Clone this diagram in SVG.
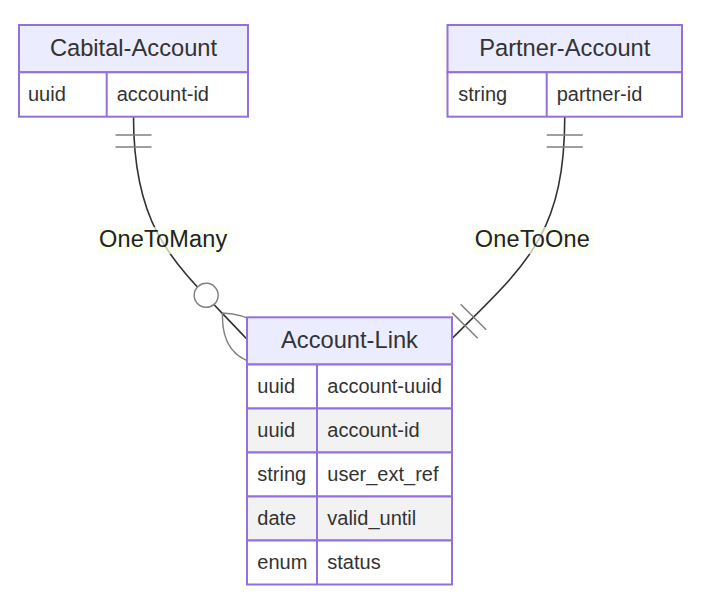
<svg xmlns="http://www.w3.org/2000/svg" width="711" height="604" viewBox="0 0 711 604">
<style>
  text { font-family: "Liberation Sans", Arial, Helvetica, sans-serif; fill: #333; }
  .hdr { fill: #ECECFF; stroke: #9370DB; stroke-width: 2; }
  .odd { fill: #ffffff; stroke: #9370DB; stroke-width: 2; }
  .even { fill: #f2f2f2; stroke: #9370DB; stroke-width: 2; }
  .div { stroke: #9370DB; stroke-width: 2; }
  .title { font-size: 23.7px; text-anchor: middle; }
  .attr { font-size: 20px; }
  .rel { fill: none; stroke: #333; stroke-width: 1.6; }
  .lblbox { fill: #f9ffec; opacity: 0.7; }
  .lbl { font-size: 23.5px; text-anchor: middle; fill: #222; letter-spacing: 0.2px; }
  .mk { fill: none; stroke: #808080; stroke-width: 0.75; }
</style>
<defs>
  <marker id="oneStart" viewBox="0 0 18 18" refX="0" refY="9" markerWidth="36" markerHeight="36" markerUnits="userSpaceOnUse" orient="auto" overflow="visible">
    <path class="mk" d="M9,0 L9,18 M15,0 L15,18"/>
  </marker>
  <marker id="oneEnd" viewBox="0 0 18 18" refX="18" refY="9" markerWidth="36" markerHeight="36" markerUnits="userSpaceOnUse" orient="auto" overflow="visible">
    <path class="mk" d="M3,0 L3,18 M9,0 L9,18"/>
  </marker>
  <marker id="zeroManyEnd" viewBox="0 0 57 36" refX="39" refY="18" markerWidth="114" markerHeight="72" markerUnits="userSpaceOnUse" orient="auto" overflow="visible">
    <circle cx="9" cy="18" r="6" fill="#ffffff" stroke="#808080" stroke-width="0.75"/>
    <path class="mk" d="M21,18 Q39,0 57,18 Q39,36 21,18"/>
  </marker>
</defs>

<g id="connectors">
  <path class="rel" d="M133.5,117 C133.5,237 179,266 247,339.3" marker-start="url(#oneStart)" marker-end="url(#zeroManyEnd)"/>
  <path class="rel" d="M564.75,117 C564.75,237 522.7,267.3 452.3,338.3" marker-start="url(#oneStart)" marker-end="url(#oneEnd)"/>
  <rect class="lblbox" x="97" y="227" width="133" height="27"/>
  <text class="lbl" x="163.3" y="246.5">OneToMany</text>
  <rect class="lblbox" x="473" y="227" width="120" height="27"/>
  <text class="lbl" x="532.5" y="246.5">OneToOne</text>
</g>

<g id="Cabital-Account">
  <rect class="hdr" x="19" y="25" width="229" height="47.3"/>
  <text class="title" x="133.5" y="55.5">Cabital-Account</text>
  <rect class="odd" x="19" y="72.3" width="229" height="44.4"/>
  <line class="div" x1="106.7" y1="72.3" x2="106.7" y2="116.7"/>
  <text class="attr" x="28" y="101">uuid</text>
  <text class="attr" x="116.7" y="101">account-id</text>
</g>

<g id="Partner-Account">
  <rect class="hdr" x="447.5" y="25" width="234.5" height="47.3"/>
  <text class="title" x="564.75" y="55.5">Partner-Account</text>
  <rect class="odd" x="447.5" y="72.3" width="234.5" height="44.4"/>
  <line class="div" x1="546.7" y1="72.3" x2="546.7" y2="116.7"/>
  <text class="attr" x="458.3" y="101">string</text>
  <text class="attr" x="556.7" y="101">partner-id</text>
</g>

<g id="Account-Link">
  <rect class="hdr" x="247" y="317.3" width="205" height="47.2"/>
  <text class="title" x="349.5" y="348">Account-Link</text>
  <rect class="odd" x="247" y="364.5" width="205" height="44"/>
  <rect class="even" x="247" y="408.5" width="205" height="44"/>
  <rect class="odd" x="247" y="452.5" width="205" height="44"/>
  <rect class="even" x="247" y="496.5" width="205" height="44"/>
  <rect class="odd" x="247" y="540.5" width="205" height="44"/>
  <line class="div" x1="317" y1="364.5" x2="317" y2="584.5"/>
  <text class="attr" x="257.3" y="393">uuid</text>
  <text class="attr" x="327.3" y="393">account-uuid</text>
  <text class="attr" x="257.3" y="437">uuid</text>
  <text class="attr" x="327.3" y="437">account-id</text>
  <text class="attr" x="257.3" y="481">string</text>
  <text class="attr" x="327.3" y="481">user_ext_ref</text>
  <text class="attr" x="257.3" y="525">date</text>
  <text class="attr" x="327.3" y="525">valid_until</text>
  <text class="attr" x="257.3" y="569">enum</text>
  <text class="attr" x="327.3" y="569">status</text>
</g>
</svg>
